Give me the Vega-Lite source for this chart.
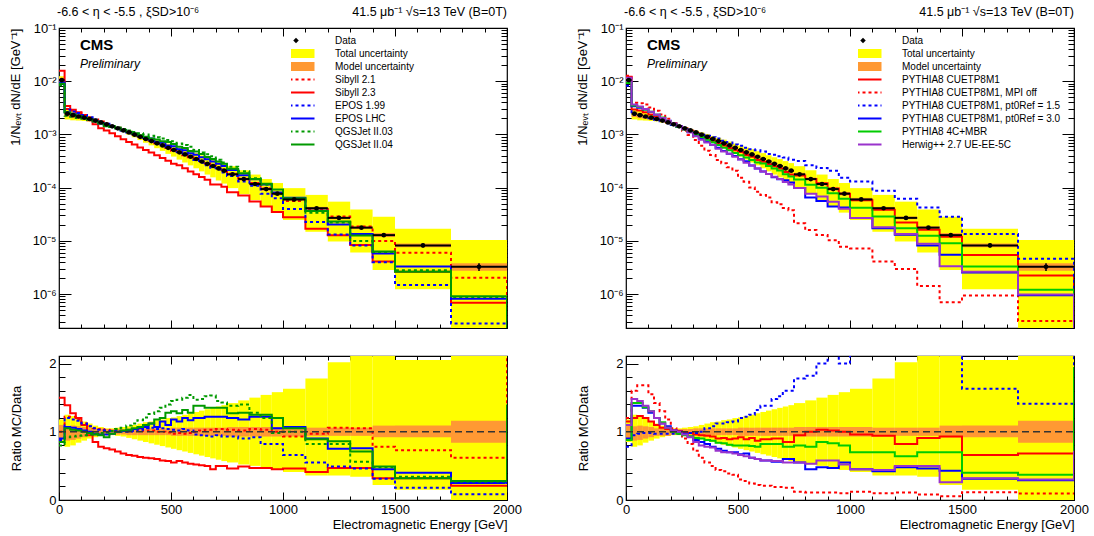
{
"$schema": "https://vega.github.io/schema/vega-lite/v6.json",
"background": "white",
"padding": {"left": 9, "top": 5, "right": 5, "bottom": 5},
"config": {
  "font": "Liberation Sans",
  "view": {"stroke": "black", "strokeWidth": 1.2},
  "axis": {"domain": false, "grid": false, "tickColor": "black", "tickWidth": 1, "labelColor": "black", "titleColor": "black", "labelFont": "Liberation Sans", "titleFont": "Liberation Sans", "labelFontSize": 13, "titleFontSize": 13, "titleFontWeight": "normal", "labelFlush": false, "labelOverlap": false},
  "legend": {"labelFont": "Liberation Sans", "labelColor": "black"}
},
"datasets": {
  "bins": [
    {"e0":0,"e1":25,"c":12.5,"d":1.05e-2,"tl":8.93e-3,"th":1.24e-2,"ml":9.45e-3,"mh":1.16e-2,"rtl":0.85,"rth":1.18,"rml":0.90,"rmh":1.10},
    {"e0":25,"e1":50,"c":37.5,"d":2.45e-3,"tl":1.91e-3,"th":3.06e-3,"ml":2.13e-3,"mh":2.65e-3,"rtl":0.78,"rth":1.25,"rml":0.87,"rmh":1.08},
    {"e0":50,"e1":75,"c":62.5,"d":2.30e-3,"tl":1.84e-3,"th":2.83e-3,"ml":2.02e-3,"mh":2.51e-3,"rtl":0.80,"rth":1.23,"rml":0.88,"rmh":1.09},
    {"e0":75,"e1":100,"c":87.5,"d":2.17e-3,"tl":1.82e-3,"th":2.60e-3,"ml":1.95e-3,"mh":2.34e-3,"rtl":0.84,"rth":1.20,"rml":0.90,"rmh":1.08},
    {"e0":100,"e1":125,"c":112.5,"d":2.06e-3,"tl":1.79e-3,"th":2.37e-3,"ml":1.90e-3,"mh":2.20e-3,"rtl":0.87,"rth":1.15,"rml":0.92,"rmh":1.07},
    {"e0":125,"e1":150,"c":137.5,"d":1.95e-3,"tl":1.76e-3,"th":2.18e-3,"ml":1.83e-3,"mh":2.05e-3,"rtl":0.90,"rth":1.12,"rml":0.94,"rmh":1.05},
    {"e0":150,"e1":175,"c":162.5,"d":1.82e-3,"tl":1.67e-3,"th":1.98e-3,"ml":1.71e-3,"mh":1.91e-3,"rtl":0.92,"rth":1.09,"rml":0.94,"rmh":1.05},
    {"e0":175,"e1":200,"c":187.5,"d":1.68e-3,"tl":1.58e-3,"th":1.80e-3,"ml":1.58e-3,"mh":1.76e-3,"rtl":0.94,"rth":1.07,"rml":0.94,"rmh":1.05},
    {"e0":200,"e1":225,"c":212.5,"d":1.55e-3,"tl":1.47e-3,"th":1.63e-3,"ml":1.49e-3,"mh":1.61e-3,"rtl":0.95,"rth":1.05,"rml":0.96,"rmh":1.04},
    {"e0":225,"e1":250,"c":237.5,"d":1.42e-3,"tl":1.35e-3,"th":1.49e-3,"ml":1.36e-3,"mh":1.48e-3,"rtl":0.95,"rth":1.05,"rml":0.96,"rmh":1.04},
    {"e0":250,"e1":275,"c":262.5,"d":1.30e-3,"tl":1.22e-3,"th":1.38e-3,"ml":1.25e-3,"mh":1.35e-3,"rtl":0.94,"rth":1.06,"rml":0.96,"rmh":1.04},
    {"e0":275,"e1":300,"c":287.5,"d":1.19e-3,"tl":1.11e-3,"th":1.27e-3,"ml":1.14e-3,"mh":1.24e-3,"rtl":0.93,"rth":1.07,"rml":0.96,"rmh":1.04},
    {"e0":300,"e1":325,"c":312.5,"d":1.09e-3,"tl":9.92e-4,"th":1.18e-3,"ml":1.04e-3,"mh":1.14e-3,"rtl":0.91,"rth":1.08,"rml":0.95,"rmh":1.05},
    {"e0":325,"e1":350,"c":337.5,"d":9.9e-4,"tl":8.81e-4,"th":1.09e-3,"ml":9.41e-4,"mh":1.04e-3,"rtl":0.89,"rth":1.10,"rml":0.95,"rmh":1.05},
    {"e0":350,"e1":375,"c":362.5,"d":9.0e-4,"tl":7.83e-4,"th":1.01e-3,"ml":8.55e-4,"mh":9.45e-4,"rtl":0.87,"rth":1.12,"rml":0.95,"rmh":1.05},
    {"e0":375,"e1":400,"c":387.5,"d":8.2e-4,"tl":6.97e-4,"th":9.35e-4,"ml":7.79e-4,"mh":8.61e-4,"rtl":0.85,"rth":1.14,"rml":0.95,"rmh":1.05},
    {"e0":400,"e1":425,"c":412.5,"d":7.5e-4,"tl":6.23e-4,"th":8.63e-4,"ml":7.13e-4,"mh":7.88e-4,"rtl":0.83,"rth":1.15,"rml":0.95,"rmh":1.05},
    {"e0":425,"e1":450,"c":437.5,"d":6.8e-4,"tl":5.51e-4,"th":7.96e-4,"ml":6.46e-4,"mh":7.14e-4,"rtl":0.81,"rth":1.17,"rml":0.95,"rmh":1.05},
    {"e0":450,"e1":475,"c":462.5,"d":6.2e-4,"tl":4.90e-4,"th":7.32e-4,"ml":5.89e-4,"mh":6.51e-4,"rtl":0.79,"rth":1.18,"rml":0.95,"rmh":1.05},
    {"e0":475,"e1":500,"c":487.5,"d":5.6e-4,"tl":4.31e-4,"th":6.72e-4,"ml":5.32e-4,"mh":5.88e-4,"rtl":0.77,"rth":1.20,"rml":0.95,"rmh":1.05},
    {"e0":500,"e1":525,"c":512.5,"d":5.1e-4,"tl":3.83e-4,"th":6.17e-4,"ml":4.79e-4,"mh":5.41e-4,"rtl":0.75,"rth":1.21,"rml":0.94,"rmh":1.06},
    {"e0":525,"e1":550,"c":537.5,"d":4.6e-4,"tl":3.36e-4,"th":5.66e-4,"ml":4.32e-4,"mh":4.88e-4,"rtl":0.73,"rth":1.23,"rml":0.94,"rmh":1.06},
    {"e0":550,"e1":575,"c":562.5,"d":4.2e-4,"tl":2.98e-4,"th":5.25e-4,"ml":3.95e-4,"mh":4.45e-4,"rtl":0.71,"rth":1.25,"rml":0.94,"rmh":1.06},
    {"e0":575,"e1":600,"c":587.5,"d":3.8e-4,"tl":2.62e-4,"th":4.83e-4,"ml":3.57e-4,"mh":4.03e-4,"rtl":0.69,"rth":1.27,"rml":0.94,"rmh":1.06},
    {"e0":600,"e1":625,"c":612.5,"d":3.45e-4,"tl":2.31e-4,"th":4.45e-4,"ml":3.24e-4,"mh":3.66e-4,"rtl":0.67,"rth":1.29,"rml":0.94,"rmh":1.06},
    {"e0":625,"e1":650,"c":637.5,"d":3.1e-4,"tl":2.02e-4,"th":4.06e-4,"ml":2.91e-4,"mh":3.29e-4,"rtl":0.65,"rth":1.31,"rml":0.94,"rmh":1.06},
    {"e0":650,"e1":675,"c":662.5,"d":2.8e-4,"tl":1.76e-4,"th":3.72e-4,"ml":2.63e-4,"mh":2.97e-4,"rtl":0.63,"rth":1.33,"rml":0.94,"rmh":1.06},
    {"e0":675,"e1":700,"c":687.5,"d":2.55e-4,"tl":1.56e-4,"th":3.44e-4,"ml":2.40e-4,"mh":2.70e-4,"rtl":0.61,"rth":1.35,"rml":0.94,"rmh":1.06},
    {"e0":700,"e1":725,"c":712.5,"d":2.3e-4,"tl":1.36e-4,"th":3.15e-4,"ml":2.16e-4,"mh":2.44e-4,"rtl":0.59,"rth":1.37,"rml":0.94,"rmh":1.06},
    {"e0":725,"e1":750,"c":737.5,"d":2.08e-4,"tl":1.19e-4,"th":2.89e-4,"ml":1.96e-4,"mh":2.20e-4,"rtl":0.57,"rth":1.39,"rml":0.94,"rmh":1.06},
    {"e0":750,"e1":800,"c":775,"d":1.78e-4,"tl":9.79e-5,"th":2.53e-4,"ml":1.66e-4,"mh":1.90e-4,"rtl":0.55,"rth":1.42,"rml":0.93,"rmh":1.07},
    {"e0":800,"e1":850,"c":825,"d":1.45e-4,"tl":7.54e-5,"th":2.12e-4,"ml":1.35e-4,"mh":1.55e-4,"rtl":0.52,"rth":1.46,"rml":0.93,"rmh":1.07},
    {"e0":850,"e1":900,"c":875,"d":1.17e-4,"tl":5.85e-5,"th":1.76e-4,"ml":1.09e-4,"mh":1.25e-4,"rtl":0.50,"rth":1.50,"rml":0.93,"rmh":1.07},
    {"e0":900,"e1":950,"c":925,"d":9.4e-5,"tl":4.42e-5,"th":1.45e-4,"ml":8.74e-5,"mh":1.01e-4,"rtl":0.47,"rth":1.54,"rml":0.93,"rmh":1.07},
    {"e0":950,"e1":1000,"c":975,"d":7.7e-5,"tl":3.39e-5,"th":1.22e-4,"ml":7.16e-5,"mh":8.24e-5,"rtl":0.44,"rth":1.58,"rml":0.93,"rmh":1.07},
    {"e0":1000,"e1":1100,"c":1050,"d":6.0e-5,"tl":2.46e-5,"th":9.78e-5,"ml":5.58e-5,"mh":6.42e-5,"rtl":0.41,"rth":1.63,"rml":0.93,"rmh":1.07,"el":5.82e-5,"eh":6.18e-5},
    {"e0":1100,"e1":1200,"c":1150,"d":4.1e-5,"tl":1.48e-5,"th":7.3e-5,"ml":3.85e-5,"mh":4.35e-5,"rtl":0.36,"rth":1.78,"rml":0.94,"rmh":1.06,"el":3.94e-5,"eh":4.26e-5},
    {"e0":1200,"e1":1300,"c":1250,"d":2.7e-5,"tl":9.72e-6,"th":5.45e-5,"ml":2.54e-5,"mh":2.86e-5,"rtl":0.36,"rth":2.02,"rml":0.94,"rmh":1.06,"el":2.57e-5,"eh":2.84e-5},
    {"e0":1300,"e1":1400,"c":1350,"d":1.77e-5,"tl":6.02e-6,"th":3.89e-5,"ml":1.66e-5,"mh":1.88e-5,"rtl":0.34,"rth":2.2,"rml":0.94,"rmh":1.06,"el":1.66e-5,"eh":1.88e-5},
    {"e0":1400,"e1":1500,"c":1450,"d":1.28e-5,"tl":2.82e-6,"th":2.82e-5,"ml":1.18e-5,"mh":1.40e-5,"rtl":0.22,"rth":2.2,"rml":0.92,"rmh":1.09,"el":1.19e-5,"eh":1.37e-5},
    {"e0":1500,"e1":1750,"c":1625,"d":8.2e-6,"tl":1.23e-6,"th":1.68e-5,"ml":7.54e-6,"mh":8.94e-6,"rtl":0.15,"rth":2.05,"rml":0.92,"rmh":1.09,"el":7.46e-6,"eh":8.94e-6},
    {"e0":1750,"e1":2000,"c":1875,"d":3.26e-6,"tl":1e-8,"th":1.04e-5,"ml":2.74e-6,"mh":3.78e-6,"rtl":0,"rth":3.2,"rml":0.84,"rmh":1.16,"el":2.71e-6,"eh":3.81e-6}
  ],
  "Ltop": [
    {"e":0,"s21":1.05e-2,"s23":1.58e-2,"e199":9.24e-3,"elhc":9.45e-3,"q03":8.4e-3,"q04":8.93e-3},
    {"e":25,"s21":2.99e-3,"s23":3.41e-3,"e199":2.94e-3,"elhc":2.62e-3,"q03":2.25e-3,"q04":2.57e-3},
    {"e":50,"s21":2.81e-3,"s23":2.92e-3,"e199":2.71e-3,"elhc":2.44e-3,"q03":2.14e-3,"q04":2.37e-3},
    {"e":75,"s21":2.56e-3,"s23":2.60e-3,"e199":2.52e-3,"elhc":2.26e-3,"q03":2.04e-3,"q04":2.21e-3},
    {"e":100,"s21":2.31e-3,"s23":2.27e-3,"e199":2.31e-3,"elhc":2.10e-3,"q03":1.96e-3,"q04":2.06e-3},
    {"e":125,"s21":2.11e-3,"s23":1.85e-3,"e199":2.11e-3,"elhc":1.95e-3,"q03":1.87e-3,"q04":1.91e-3},
    {"e":150,"s21":1.91e-3,"s23":1.55e-3,"e199":1.91e-3,"elhc":1.77e-3,"q03":1.77e-3,"q04":1.75e-3},
    {"e":175,"s21":1.75e-3,"s23":1.31e-3,"e199":1.73e-3,"elhc":1.61e-3,"q03":1.65e-3,"q04":1.60e-3},
    {"e":200,"s21":1.60e-3,"s23":1.18e-3,"e199":1.58e-3,"elhc":1.49e-3,"q03":1.53e-3,"q04":1.43e-3},
    {"e":225,"s21":1.45e-3,"s23":1.05e-3,"e199":1.43e-3,"elhc":1.38e-3,"q03":1.43e-3,"q04":1.38e-3},
    {"e":250,"s21":1.33e-3,"s23":9.23e-4,"e199":1.31e-3,"elhc":1.30e-3,"q03":1.35e-3,"q04":1.30e-3},
    {"e":275,"s21":1.20e-3,"s23":8.09e-4,"e199":1.19e-3,"elhc":1.20e-3,"q03":1.26e-3,"q04":1.21e-3},
    {"e":300,"s21":1.10e-3,"s23":7.19e-4,"e199":1.09e-3,"elhc":1.11e-3,"q03":1.19e-3,"q04":1.12e-3},
    {"e":325,"s21":1.01e-3,"s23":6.44e-4,"e199":1.00e-3,"elhc":1.03e-3,"q03":1.11e-3,"q04":1.04e-3},
    {"e":350,"s21":9.27e-4,"s23":5.67e-4,"e199":9.27e-4,"elhc":9.45e-4,"q03":1.05e-3,"q04":9.63e-4},
    {"e":375,"s21":8.28e-4,"s23":5.08e-4,"e199":8.61e-4,"elhc":8.77e-4,"q03":9.92e-4,"q04":9.02e-4},
    {"e":400,"s21":7.65e-4,"s23":4.58e-4,"e199":7.95e-4,"elhc":8.4e-4,"q03":9.45e-4,"q04":8.4e-4},
    {"e":425,"s21":6.8e-4,"s23":4.08e-4,"e199":7.07e-4,"elhc":7.28e-4,"q03":8.84e-4,"q04":8.02e-4},
    {"e":450,"s21":6.2e-4,"s23":3.6e-4,"e199":6.51e-4,"elhc":7.13e-4,"q03":8.37e-4,"q04":7.44e-4},
    {"e":475,"s21":5.54e-4,"s23":3.19e-4,"e199":5.82e-4,"elhc":6.16e-4,"q03":7.84e-4,"q04":7.17e-4},
    {"e":500,"s21":4.95e-4,"s23":2.81e-4,"e199":5.25e-4,"elhc":6.02e-4,"q03":7.4e-4,"q04":6.63e-4},
    {"e":525,"s21":4.51e-4,"s23":2.62e-4,"e199":4.69e-4,"elhc":5.29e-4,"q03":6.76e-4,"q04":5.84e-4},
    {"e":550,"s21":4.07e-4,"s23":2.31e-4,"e199":4.37e-4,"elhc":5.04e-4,"q03":6.3e-4,"q04":5.54e-4},
    {"e":575,"s21":3.72e-4,"s23":2.01e-4,"e199":3.88e-4,"elhc":4.45e-4,"q03":5.85e-4,"q04":4.86e-4},
    {"e":600,"s21":3.45e-4,"s23":1.79e-4,"e199":3.31e-4,"elhc":4.14e-4,"q03":5.07e-4,"q04":4.76e-4},
    {"e":625,"s21":3.16e-4,"s23":1.58e-4,"e199":2.95e-4,"elhc":3.72e-4,"q03":4.59e-4,"q04":4.28e-4},
    {"e":650,"s21":2.88e-4,"s23":1.4e-4,"e199":2.63e-4,"elhc":3.42e-4,"q03":4.26e-4,"q04":3.78e-4},
    {"e":675,"s21":2.63e-4,"s23":1.15e-4,"e199":2.37e-4,"elhc":3.11e-4,"q03":3.9e-4,"q04":3.44e-4},
    {"e":700,"s21":2.39e-4,"s23":1.15e-4,"e199":2.19e-4,"elhc":2.81e-4,"q03":3.34e-4,"q04":3.11e-4},
    {"e":725,"s21":2.16e-4,"s23":1.04e-4,"e199":1.93e-4,"elhc":2.54e-4,"q03":2.97e-4,"q04":2.81e-4},
    {"e":750,"s21":1.83e-4,"s23":8.19e-5,"e199":1.66e-4,"elhc":2.14e-4,"q03":2.46e-4,"q04":2.26e-4},
    {"e":800,"s21":1.48e-4,"s23":7.11e-5,"e199":1.31e-4,"elhc":1.71e-4,"q03":2.03e-4,"q04":1.86e-4},
    {"e":850,"s21":1.22e-4,"s23":5.5e-5,"e199":1.08e-4,"elhc":1.43e-4,"q03":1.5e-4,"q04":1.46e-4},
    {"e":900,"s21":9.68e-5,"s23":4.42e-5,"e199":7.71e-5,"elhc":1.15e-4,"q03":1.13e-4,"q04":1.18e-4},
    {"e":950,"s21":7.7e-5,"s23":3.47e-5,"e199":6.31e-5,"elhc":8.09e-5,"q03":7.55e-5,"q04":9.24e-5},
    {"e":1000,"s21":5.58e-5,"s23":2.76e-5,"e199":3.96e-5,"elhc":6.42e-5,"q03":6.0e-5,"q04":6.3e-5},
    {"e":1100,"s21":3.98e-5,"s23":1.68e-5,"e199":2.26e-5,"elhc":3.69e-5,"q03":3.36e-5,"q04":3.65e-5},
    {"e":1200,"s21":2.86e-5,"s23":1.27e-5,"e199":1.32e-5,"elhc":2.03e-5,"q03":2.21e-5,"q04":2.32e-5},
    {"e":1300,"s21":1.86e-5,"s23":8.32e-6,"e199":8.14e-6,"elhc":1.35e-5,"q03":9.91e-6,"q04":1.26e-5},
    {"e":1400,"s21":9.98e-6,"s23":4.1e-6,"e199":3.97e-6,"elhc":5.76e-6,"q03":6.14e-6,"q04":6.27e-6},
    {"e":1500,"s21":5.99e-6,"s23":2.62e-6,"e199":1.48e-6,"elhc":3.28e-6,"q03":2.79e-6,"q04":2.62e-6},
    {"e":1750,"s21":2.02e-6,"s23":6.85e-7,"e199":2.8e-7,"elhc":8.15e-7,"q03":8.8e-7,"q04":9.13e-7},
    {"e":2000,"s21":1e-9,"s23":1e-9,"e199":1e-9,"elhc":1e-9,"q03":1e-9,"q04":1e-9}
  ],
  "Lrat": [
    {"e":0,"s21":1.00,"s23":1.50,"e199":0.88,"elhc":0.90,"q03":0.80,"q04":0.85},
    {"e":25,"s21":1.22,"s23":1.39,"e199":1.20,"elhc":1.07,"q03":0.92,"q04":1.05},
    {"e":50,"s21":1.22,"s23":1.27,"e199":1.18,"elhc":1.06,"q03":0.93,"q04":1.03},
    {"e":75,"s21":1.18,"s23":1.20,"e199":1.16,"elhc":1.04,"q03":0.94,"q04":1.02},
    {"e":100,"s21":1.12,"s23":1.10,"e199":1.12,"elhc":1.02,"q03":0.95,"q04":1.00},
    {"e":125,"s21":1.08,"s23":0.95,"e199":1.08,"elhc":1.00,"q03":0.96,"q04":0.98},
    {"e":150,"s21":1.05,"s23":0.85,"e199":1.05,"elhc":0.97,"q03":0.97,"q04":0.96},
    {"e":175,"s21":1.04,"s23":0.78,"e199":1.03,"elhc":0.96,"q03":0.98,"q04":0.95},
    {"e":200,"s21":1.03,"s23":0.76,"e199":1.02,"elhc":0.96,"q03":0.99,"q04":0.92},
    {"e":225,"s21":1.02,"s23":0.74,"e199":1.01,"elhc":0.97,"q03":1.01,"q04":0.97},
    {"e":250,"s21":1.02,"s23":0.71,"e199":1.01,"elhc":1.00,"q03":1.04,"q04":1.00},
    {"e":275,"s21":1.01,"s23":0.68,"e199":1.00,"elhc":1.01,"q03":1.06,"q04":1.02},
    {"e":300,"s21":1.01,"s23":0.66,"e199":1.00,"elhc":1.02,"q03":1.09,"q04":1.03},
    {"e":325,"s21":1.02,"s23":0.65,"e199":1.01,"elhc":1.04,"q03":1.12,"q04":1.05},
    {"e":350,"s21":1.03,"s23":0.63,"e199":1.03,"elhc":1.05,"q03":1.17,"q04":1.07},
    {"e":375,"s21":1.01,"s23":0.62,"e199":1.05,"elhc":1.07,"q03":1.21,"q04":1.10},
    {"e":400,"s21":1.02,"s23":0.61,"e199":1.06,"elhc":1.12,"q03":1.26,"q04":1.12},
    {"e":425,"s21":1.00,"s23":0.60,"e199":1.04,"elhc":1.07,"q03":1.30,"q04":1.18},
    {"e":450,"s21":1.00,"s23":0.58,"e199":1.05,"elhc":1.15,"q03":1.35,"q04":1.20},
    {"e":475,"s21":0.99,"s23":0.57,"e199":1.04,"elhc":1.10,"q03":1.40,"q04":1.28},
    {"e":500,"s21":0.97,"s23":0.55,"e199":1.03,"elhc":1.18,"q03":1.45,"q04":1.30},
    {"e":525,"s21":0.98,"s23":0.57,"e199":1.02,"elhc":1.15,"q03":1.47,"q04":1.27},
    {"e":550,"s21":0.97,"s23":0.55,"e199":1.04,"elhc":1.20,"q03":1.50,"q04":1.32},
    {"e":575,"s21":0.98,"s23":0.53,"e199":1.02,"elhc":1.17,"q03":1.54,"q04":1.28},
    {"e":600,"s21":1.00,"s23":0.52,"e199":0.96,"elhc":1.20,"q03":1.47,"q04":1.38},
    {"e":625,"s21":1.02,"s23":0.51,"e199":0.95,"elhc":1.20,"q03":1.48,"q04":1.38},
    {"e":650,"s21":1.03,"s23":0.50,"e199":0.94,"elhc":1.22,"q03":1.52,"q04":1.35},
    {"e":675,"s21":1.03,"s23":0.45,"e199":0.93,"elhc":1.22,"q03":1.53,"q04":1.35},
    {"e":700,"s21":1.04,"s23":0.50,"e199":0.95,"elhc":1.22,"q03":1.45,"q04":1.35},
    {"e":725,"s21":1.04,"s23":0.50,"e199":0.93,"elhc":1.22,"q03":1.43,"q04":1.35},
    {"e":750,"s21":1.03,"s23":0.46,"e199":0.93,"elhc":1.20,"q03":1.38,"q04":1.27},
    {"e":800,"s21":1.02,"s23":0.49,"e199":0.90,"elhc":1.18,"q03":1.40,"q04":1.28},
    {"e":850,"s21":1.04,"s23":0.47,"e199":0.92,"elhc":1.22,"q03":1.28,"q04":1.25},
    {"e":900,"s21":1.03,"s23":0.47,"e199":0.82,"elhc":1.22,"q03":1.20,"q04":1.25},
    {"e":950,"s21":1.00,"s23":0.45,"e199":0.82,"elhc":1.05,"q03":0.98,"q04":1.20},
    {"e":1000,"s21":0.93,"s23":0.46,"e199":0.66,"elhc":1.07,"q03":1.00,"q04":1.05},
    {"e":1100,"s21":0.97,"s23":0.41,"e199":0.55,"elhc":0.90,"q03":0.82,"q04":0.89},
    {"e":1200,"s21":1.06,"s23":0.47,"e199":0.49,"elhc":0.75,"q03":0.82,"q04":0.86},
    {"e":1300,"s21":1.05,"s23":0.47,"e199":0.46,"elhc":0.76,"q03":0.56,"q04":0.71},
    {"e":1400,"s21":0.78,"s23":0.32,"e199":0.31,"elhc":0.45,"q03":0.48,"q04":0.49},
    {"e":1500,"s21":0.73,"s23":0.32,"e199":0.18,"elhc":0.40,"q03":0.34,"q04":0.32},
    {"e":1750,"s21":0.62,"s23":0.21,"e199":0.086,"elhc":0.25,"q03":0.27,"q04":0.28},
    {"e":2000,"s21":3,"s23":0.21,"e199":0.086,"elhc":0.25,"q03":0.27,"q04":1.4}
  ],
  "Rtop": [
    {"e":0,"p":1.21e-2,"pm":1.26e-2,"p15":8.19e-3,"p30":9.45e-3,"mbr":9.24e-3,"hw":1.16e-2},
    {"e":25,"p":2.94e-3,"pm":3.92e-3,"p15":2.33e-3,"p30":3.38e-3,"mbr":3.48e-3,"hw":3.63e-3},
    {"e":50,"p":2.83e-3,"pm":3.86e-3,"p15":2.23e-3,"p30":3.17e-3,"mbr":3.27e-3,"hw":3.34e-3},
    {"e":75,"p":2.60e-3,"pm":3.65e-3,"p15":2.13e-3,"p30":2.93e-3,"mbr":2.95e-3,"hw":2.99e-3},
    {"e":100,"p":2.37e-3,"pm":3.19e-3,"p15":2.02e-3,"p30":2.64e-3,"mbr":2.68e-3,"hw":2.68e-3},
    {"e":125,"p":2.15e-3,"pm":2.77e-3,"p15":1.89e-3,"p30":2.34e-3,"mbr":2.34e-3,"hw":2.34e-3},
    {"e":150,"p":1.93e-3,"pm":2.37e-3,"p15":1.77e-3,"p30":2.04e-3,"mbr":2.07e-3,"hw":2.04e-3},
    {"e":175,"p":1.75e-3,"pm":1.98e-3,"p15":1.63e-3,"p30":1.81e-3,"mbr":1.78e-3,"hw":1.78e-3},
    {"e":200,"p":1.58e-3,"pm":1.63e-3,"p15":1.50e-3,"p30":1.58e-3,"mbr":1.55e-3,"hw":1.58e-3},
    {"e":225,"p":1.43e-3,"pm":1.38e-3,"p15":1.38e-3,"p30":1.42e-3,"mbr":1.38e-3,"hw":1.42e-3},
    {"e":250,"p":1.29e-3,"pm":1.17e-3,"p15":1.26e-3,"p30":1.26e-3,"mbr":1.24e-3,"hw":1.25e-3},
    {"e":275,"p":1.17e-3,"pm":9.76e-4,"p15":1.17e-3,"p30":1.11e-3,"mbr":1.11e-3,"hw":1.09e-3},
    {"e":300,"p":1.05e-3,"pm":7.85e-4,"p15":1.07e-3,"p30":9.59e-4,"mbr":9.92e-4,"hw":9.27e-4},
    {"e":325,"p":9.41e-4,"pm":6.14e-4,"p15":9.9e-4,"p30":8.42e-4,"mbr":8.91e-4,"hw":7.92e-4},
    {"e":350,"p":8.46e-4,"pm":4.95e-4,"p15":9.45e-4,"p30":7.38e-4,"mbr":7.92e-4,"hw":7.02e-4},
    {"e":375,"p":7.63e-4,"pm":4.1e-4,"p15":8.86e-4,"p30":6.4e-4,"mbr":7.13e-4,"hw":6.31e-4},
    {"e":400,"p":6.75e-4,"pm":3.3e-4,"p15":8.4e-4,"p30":5.63e-4,"mbr":6.3e-4,"hw":5.4e-4},
    {"e":425,"p":6.19e-4,"pm":2.86e-4,"p15":7.62e-4,"p30":4.9e-4,"mbr":5.64e-4,"hw":4.76e-4},
    {"e":450,"p":5.52e-4,"pm":2.42e-4,"p15":7.07e-4,"p30":4.34e-4,"mbr":5.02e-4,"hw":4.34e-4},
    {"e":475,"p":5.04e-4,"pm":2.07e-4,"p15":6.44e-4,"p30":3.92e-4,"mbr":4.48e-4,"hw":3.81e-4},
    {"e":500,"p":4.69e-4,"pm":1.53e-4,"p15":6.12e-4,"p30":3.42e-4,"mbr":4.08e-4,"hw":3.37e-4},
    {"e":525,"p":4.09e-4,"pm":1.29e-4,"p15":5.61e-4,"p30":3.13e-4,"mbr":3.68e-4,"hw":2.94e-4},
    {"e":550,"p":3.82e-4,"pm":1.01e-4,"p15":5.25e-4,"p30":2.6e-4,"mbr":3.32e-4,"hw":2.6e-4},
    {"e":575,"p":3.31e-4,"pm":8.36e-5,"p15":5.02e-4,"p30":2.28e-4,"mbr":2.96e-4,"hw":2.28e-4},
    {"e":600,"p":3.07e-4,"pm":7.25e-5,"p15":4.76e-4,"p30":2.0e-4,"mbr":2.83e-4,"hw":2.0e-4},
    {"e":625,"p":2.76e-4,"pm":6.51e-5,"p15":4.28e-4,"p30":1.8e-4,"mbr":2.54e-4,"hw":1.8e-4},
    {"e":650,"p":2.52e-4,"pm":5.32e-5,"p15":4.14e-4,"p30":1.57e-4,"mbr":2.3e-4,"hw":1.6e-4},
    {"e":675,"p":2.3e-4,"pm":4.85e-5,"p15":3.88e-4,"p30":1.43e-4,"mbr":2.09e-4,"hw":1.45e-4},
    {"e":700,"p":1.96e-4,"pm":4.14e-5,"p15":3.68e-4,"p30":1.38e-4,"mbr":1.79e-4,"hw":1.27e-4},
    {"e":725,"p":1.77e-4,"pm":3.74e-5,"p15":3.33e-4,"p30":1.25e-4,"mbr":1.62e-4,"hw":1.14e-4},
    {"e":750,"p":1.69e-4,"pm":2.14e-5,"p15":3.17e-4,"p30":9.79e-5,"mbr":1.42e-4,"hw":9.79e-5},
    {"e":800,"p":1.45e-4,"pm":1.6e-5,"p15":2.64e-4,"p30":6.53e-5,"mbr":1.13e-4,"hw":7.69e-5},
    {"e":850,"p":1.21e-4,"pm":1.29e-5,"p15":2.34e-4,"p30":5.62e-5,"mbr":9.95e-5,"hw":6.79e-5},
    {"e":900,"p":9.59e-5,"pm":1.03e-5,"p15":2.07e-4,"p30":4.42e-5,"mbr":7.8e-5,"hw":5.45e-5},
    {"e":950,"p":7.7e-5,"pm":7.7e-6,"p15":1.54e-4,"p30":4.24e-5,"mbr":6.16e-5,"hw":4.0e-5},
    {"e":1000,"p":5.76e-5,"pm":7.2e-6,"p15":1.3e-4,"p30":2.7e-5,"mbr":4.2e-5,"hw":2.7e-5},
    {"e":1100,"p":3.85e-5,"pm":4.1e-6,"p15":8.77e-5,"p30":1.72e-5,"mbr":2.87e-5,"hw":1.8e-5},
    {"e":1200,"p":2.21e-5,"pm":2.97e-6,"p15":6.16e-5,"p30":1.3e-5,"mbr":1.73e-5,"hw":1.35e-5},
    {"e":1300,"p":1.61e-5,"pm":1.42e-6,"p15":4.25e-5,"p30":8.14e-6,"mbr":1.24e-5,"hw":8.85e-6},
    {"e":1400,"p":1.19e-5,"pm":7.04e-7,"p15":2.82e-5,"p30":5.5e-6,"mbr":8.96e-6,"hw":3.33e-6},
    {"e":1500,"p":5.41e-6,"pm":9.43e-7,"p15":1.34e-5,"p30":2.54e-6,"mbr":3.28e-6,"hw":2.62e-6},
    {"e":1750,"p":2.22e-6,"pm":3.1e-7,"p15":4.6e-6,"p30":9.45e-7,"mbr":1.21e-6,"hw":9.78e-7},
    {"e":2000,"p":1e-9,"pm":1e-9,"p15":1e-9,"p30":1e-9,"mbr":1e-9,"hw":1e-9}
  ],
  "Rrat": [
    {"e":0,"p":1.15,"pm":1.20,"p15":0.78,"p30":0.90,"mbr":0.88,"hw":1.10},
    {"e":25,"p":1.20,"pm":1.60,"p15":0.95,"p30":1.38,"mbr":1.42,"hw":1.48},
    {"e":50,"p":1.23,"pm":1.68,"p15":0.97,"p30":1.38,"mbr":1.42,"hw":1.45},
    {"e":75,"p":1.20,"pm":1.68,"p15":0.98,"p30":1.35,"mbr":1.36,"hw":1.38},
    {"e":100,"p":1.15,"pm":1.55,"p15":0.98,"p30":1.28,"mbr":1.30,"hw":1.30},
    {"e":125,"p":1.10,"pm":1.42,"p15":0.97,"p30":1.20,"mbr":1.20,"hw":1.20},
    {"e":150,"p":1.06,"pm":1.30,"p15":0.97,"p30":1.12,"mbr":1.14,"hw":1.12},
    {"e":175,"p":1.04,"pm":1.18,"p15":0.97,"p30":1.08,"mbr":1.06,"hw":1.06},
    {"e":200,"p":1.02,"pm":1.05,"p15":0.97,"p30":1.02,"mbr":1.00,"hw":1.02},
    {"e":225,"p":1.01,"pm":0.97,"p15":0.97,"p30":1.00,"mbr":0.97,"hw":1.00},
    {"e":250,"p":0.99,"pm":0.90,"p15":0.97,"p30":0.97,"mbr":0.95,"hw":0.96},
    {"e":275,"p":0.98,"pm":0.82,"p15":0.98,"p30":0.93,"mbr":0.93,"hw":0.92},
    {"e":300,"p":0.96,"pm":0.72,"p15":0.98,"p30":0.88,"mbr":0.91,"hw":0.85},
    {"e":325,"p":0.95,"pm":0.62,"p15":1.00,"p30":0.85,"mbr":0.90,"hw":0.80},
    {"e":350,"p":0.94,"pm":0.55,"p15":1.05,"p30":0.82,"mbr":0.88,"hw":0.78},
    {"e":375,"p":0.93,"pm":0.50,"p15":1.08,"p30":0.78,"mbr":0.87,"hw":0.77},
    {"e":400,"p":0.90,"pm":0.44,"p15":1.12,"p30":0.75,"mbr":0.84,"hw":0.72},
    {"e":425,"p":0.91,"pm":0.42,"p15":1.12,"p30":0.72,"mbr":0.83,"hw":0.70},
    {"e":450,"p":0.89,"pm":0.39,"p15":1.14,"p30":0.70,"mbr":0.81,"hw":0.70},
    {"e":475,"p":0.90,"pm":0.37,"p15":1.15,"p30":0.70,"mbr":0.80,"hw":0.68},
    {"e":500,"p":0.92,"pm":0.30,"p15":1.20,"p30":0.67,"mbr":0.80,"hw":0.66},
    {"e":525,"p":0.89,"pm":0.28,"p15":1.22,"p30":0.68,"mbr":0.80,"hw":0.64},
    {"e":550,"p":0.91,"pm":0.24,"p15":1.25,"p30":0.62,"mbr":0.79,"hw":0.62},
    {"e":575,"p":0.87,"pm":0.22,"p15":1.32,"p30":0.60,"mbr":0.78,"hw":0.60},
    {"e":600,"p":0.89,"pm":0.21,"p15":1.38,"p30":0.58,"mbr":0.82,"hw":0.58},
    {"e":625,"p":0.89,"pm":0.21,"p15":1.38,"p30":0.58,"mbr":0.82,"hw":0.58},
    {"e":650,"p":0.90,"pm":0.19,"p15":1.48,"p30":0.56,"mbr":0.82,"hw":0.57},
    {"e":675,"p":0.90,"pm":0.19,"p15":1.52,"p30":0.56,"mbr":0.82,"hw":0.57},
    {"e":700,"p":0.85,"pm":0.18,"p15":1.60,"p30":0.60,"mbr":0.78,"hw":0.55},
    {"e":725,"p":0.85,"pm":0.18,"p15":1.60,"p30":0.60,"mbr":0.78,"hw":0.55},
    {"e":750,"p":0.95,"pm":0.12,"p15":1.78,"p30":0.55,"mbr":0.80,"hw":0.55},
    {"e":800,"p":1.00,"pm":0.11,"p15":1.82,"p30":0.45,"mbr":0.78,"hw":0.53},
    {"e":850,"p":1.03,"pm":0.11,"p15":2.00,"p30":0.48,"mbr":0.85,"hw":0.58},
    {"e":900,"p":1.02,"pm":0.11,"p15":2.20,"p30":0.47,"mbr":0.83,"hw":0.58},
    {"e":950,"p":1.00,"pm":0.10,"p15":2.00,"p30":0.55,"mbr":0.80,"hw":0.52},
    {"e":1000,"p":0.96,"pm":0.12,"p15":2.16,"p30":0.45,"mbr":0.70,"hw":0.45},
    {"e":1100,"p":0.94,"pm":0.10,"p15":2.14,"p30":0.42,"mbr":0.70,"hw":0.44},
    {"e":1200,"p":0.82,"pm":0.11,"p15":2.28,"p30":0.48,"mbr":0.64,"hw":0.50},
    {"e":1300,"p":0.91,"pm":0.08,"p15":2.40,"p30":0.46,"mbr":0.70,"hw":0.50},
    {"e":1400,"p":0.93,"pm":0.055,"p15":2.20,"p30":0.43,"mbr":0.70,"hw":0.26},
    {"e":1500,"p":0.66,"pm":0.115,"p15":1.63,"p30":0.31,"mbr":0.40,"hw":0.32},
    {"e":1750,"p":0.68,"pm":0.095,"p15":1.41,"p30":0.29,"mbr":0.37,"hw":0.30},
    {"e":2000,"p":0.68,"pm":0.095,"p15":3,"p30":0.29,"mbr":1.95,"hw":0.72}
  ]
},
"columns": 2,
"spacing": {"row": 28, "column": 119},
"bounds": "flush",
"resolve": {"scale": {"x": "independent", "y": "independent", "color": "independent", "strokeDash": "independent"}},
"concat": [
  {
    "width": 448, "height": 300,
    "layer": [
      {"data": {"name": "bins"}, "mark": {"type": "rect", "color": "#ffff00", "clip": true},
       "encoding": {
         "x": {"field": "e0", "type": "quantitative", "scale": {"domain": [0, 2000], "nice": false, "zero": false}, "axis": {"orient": "bottom", "values": [100,200,300,400,600,700,800,900,1100,1200,1300,1400,1600,1700,1800,1900], "tickSize": 4, "offset": -4, "labels": false, "title": null}},
         "x2": {"field": "e1"},
         "y": {"field": "tl", "type": "quantitative", "scale": {"type": "log", "domain": [2.3e-7, 0.1], "nice": false}, "axis": {"orient": "left", "values": [3e-7,4e-7,5e-7,6e-7,7e-7,8e-7,9e-7,2e-6,3e-6,4e-6,5e-6,6e-6,7e-6,8e-6,9e-6,2e-5,3e-5,4e-5,5e-5,6e-5,7e-5,8e-5,9e-5,2e-4,3e-4,4e-4,5e-4,6e-4,7e-4,8e-4,9e-4,0.002,0.003,0.004,0.005,0.006,0.007,0.008,0.009,0.02,0.03,0.04,0.05,0.06,0.07,0.08,0.09], "tickSize": 6, "offset": -6, "labels": false, "title": null}},
         "y2": {"field": "th"}
       }},
      {"data": {"name": "bins"}, "mark": {"type": "rect", "color": "#ff9933", "clip": true},
       "encoding": {
         "x": {"field": "e0", "type": "quantitative", "axis": {"orient": "top", "values": [100,200,300,400,600,700,800,900,1100,1200,1300,1400,1600,1700,1800,1900], "tickSize": 4, "offset": -4, "labels": false, "title": null}},
         "x2": {"field": "e1"},
         "y": {"field": "ml", "type": "quantitative", "axis": {"orient": "right", "values": [3e-7,4e-7,5e-7,6e-7,7e-7,8e-7,9e-7,2e-6,3e-6,4e-6,5e-6,6e-6,7e-6,8e-6,9e-6,2e-5,3e-5,4e-5,5e-5,6e-5,7e-5,8e-5,9e-5,2e-4,3e-4,4e-4,5e-4,6e-4,7e-4,8e-4,9e-4,0.002,0.003,0.004,0.005,0.006,0.007,0.008,0.009,0.02,0.03,0.04,0.05,0.06,0.07,0.08,0.09], "tickSize": 6, "offset": -6, "labels": false, "title": null}},
         "y2": {"field": "mh"}
       }},
      {"data": {"name": "Ltop"},
       "transform": [{"fold": ["s21", "s23", "e199", "elhc", "q03", "q04"], "as": ["series", "v"]}],
       "mark": {"type": "line", "interpolate": "step-after", "strokeWidth": 2, "clip": true},
       "encoding": {
         "x": {"field": "e", "type": "quantitative", "axis": {"orient": "bottom", "values": [0,500,1000,1500,2000], "tickSize": 8, "offset": -8, "labels": false, "title": null}},
         "y": {"field": "v", "type": "quantitative", "axis": {"orient": "left", "values": [1e-6,1e-5,1e-4,0.001,0.01,0.1], "tickSize": 12, "offset": -12, "labelPadding": 3, "labelExpr": "'10' + ['⁰','⁻¹','⁻²','⁻³','⁻⁴','⁻⁵','⁻⁶','⁻⁷'][round(-log(datum.value)/LN10)]", "title": "1/Nₑᵥₜ dN/dE [GeV⁻¹]", "titleAnchor": "end", "titlePadding": 9}},
         "color": {"field": "series", "type": "nominal",
           "scale": {"domain": ["data","tot","mod","s21","s23","e199","elhc","q03","q04"], "range": ["#000000","#ffff00","#ff9933","#ff0000","#ff0000","#0000ff","#0000ff","#009900","#009900"]},
           "legend": {"orient": "none", "legendX": 232, "legendY": 7, "title": null, "symbolType": "stroke", "symbolSize": 1369, "labelOffset": 34, "rowPadding": 2, "clipHeight": 11, "padding": 0, "labelFontSize": 10,
             "labelExpr": "{'data':'Data','tot':'Total uncertainty','mod':'Model uncertainty','s21':'Sibyll 2.1','s23':'Sibyll 2.3','e199':'EPOS 1.99','elhc':'EPOS LHC','q03':'QGSJet II.03','q04':'QGSJet II.04'}[datum.value]",
             "encode": {"symbols": {"update": {
               "shape": {"signal": "datum.value === 'data' ? 'diamond' : 'stroke'"},
               "size": {"signal": "datum.value === 'data' ? 30 : 1369"},
               "fill": {"signal": "datum.value === 'data' ? 'black' : 'transparent'"},
               "strokeWidth": {"signal": "datum.value === 'tot' || datum.value === 'mod' ? 9 : (datum.value === 'data' ? 0 : 2)"}
             }}}}},
         "strokeDash": {"field": "series", "type": "nominal",
           "scale": {"domain": ["data","tot","mod","s21","s23","e199","elhc","q03","q04"], "range": [[1,0],[1,0],[1,0],[3,3],[1,0],[3,3],[1,0],[3,3],[1,0]]}}
       }},
      {"data": {"name": "bins"}, "mark": {"type": "rule", "color": "black", "strokeWidth": 2, "clip": true},
       "encoding": {
         "x": {"field": "e0", "type": "quantitative", "axis": {"orient": "top", "values": [0,500,1000,1500,2000], "tickSize": 8, "offset": -8, "labels": false, "title": null}},
         "x2": {"field": "e1"},
         "y": {"field": "d", "type": "quantitative", "axis": {"orient": "right", "values": [1e-6,1e-5,1e-4,0.001,0.01,0.1], "tickSize": 12, "offset": -12, "labels": false, "title": null}}
       }},
      {"data": {"name": "bins"}, "transform": [{"filter": "isValid(datum.el)"}], "mark": {"type": "rule", "color": "black", "strokeWidth": 1.5},
       "encoding": {
         "x": {"field": "c", "type": "quantitative", "axis": null},
         "y": {"field": "el", "type": "quantitative", "axis": null},
         "y2": {"field": "eh"}
       }},
      {"data": {"name": "bins"}, "mark": {"type": "point", "filled": true, "color": "black", "size": 22, "opacity": 1},
       "encoding": {
         "x": {"field": "c", "type": "quantitative", "axis": null},
         "y": {"field": "d", "type": "quantitative", "axis": null}
       }},
      {"data": {"values": [{}]}, "mark": {"type": "text", "text": "CMS", "fontWeight": "bold", "fontSize": 15, "align": "left", "baseline": "middle", "dx": 21, "dy": 17, "color": "black"},
       "encoding": {"x": {"datum": 0, "type": "quantitative", "axis": null}, "y": {"datum": 0.1, "type": "quantitative", "axis": null}}},
      {"data": {"values": [{}]}, "mark": {"type": "text", "text": "Preliminary", "fontStyle": "italic", "fontSize": 12, "align": "left", "baseline": "middle", "dx": 21, "dy": 36, "color": "black"},
       "encoding": {"x": {"datum": 0, "type": "quantitative", "axis": null}, "y": {"datum": 0.1, "type": "quantitative", "axis": null}}},
      {"data": {"values": [{}]}, "mark": {"type": "text", "text": "-6.6 < η < -5.5 , ξSD>10⁻⁶", "fontSize": 12.5, "align": "left", "baseline": "middle", "dx": -2, "dy": -16, "color": "black"},
       "encoding": {"x": {"datum": 0, "type": "quantitative", "axis": null}, "y": {"datum": 0.1, "type": "quantitative", "axis": null}}},
      {"data": {"values": [{}]}, "mark": {"type": "text", "text": "41.5 μb⁻¹ √s=13 TeV (B=0T)", "fontSize": 12.5, "align": "right", "baseline": "middle", "dx": 0, "dy": -16, "color": "black"},
       "encoding": {"x": {"datum": 2000, "type": "quantitative", "axis": null}, "y": {"datum": 0.1, "type": "quantitative", "axis": null}}}
    ],
    "resolve": {"axis": {"x": "independent", "y": "independent"}}
  },
  {
    "width": 448, "height": 300,
    "layer": [
      {"data": {"name": "bins"}, "mark": {"type": "rect", "color": "#ffff00", "clip": true},
       "encoding": {
         "x": {"field": "e0", "type": "quantitative", "scale": {"domain": [0, 2000], "nice": false, "zero": false}, "axis": {"orient": "bottom", "values": [100,200,300,400,600,700,800,900,1100,1200,1300,1400,1600,1700,1800,1900], "tickSize": 4, "offset": -4, "labels": false, "title": null}},
         "x2": {"field": "e1"},
         "y": {"field": "tl", "type": "quantitative", "scale": {"type": "log", "domain": [2.3e-7, 0.1], "nice": false}, "axis": {"orient": "left", "values": [3e-7,4e-7,5e-7,6e-7,7e-7,8e-7,9e-7,2e-6,3e-6,4e-6,5e-6,6e-6,7e-6,8e-6,9e-6,2e-5,3e-5,4e-5,5e-5,6e-5,7e-5,8e-5,9e-5,2e-4,3e-4,4e-4,5e-4,6e-4,7e-4,8e-4,9e-4,0.002,0.003,0.004,0.005,0.006,0.007,0.008,0.009,0.02,0.03,0.04,0.05,0.06,0.07,0.08,0.09], "tickSize": 6, "offset": -6, "labels": false, "title": null}},
         "y2": {"field": "th"}
       }},
      {"data": {"name": "bins"}, "mark": {"type": "rect", "color": "#ff9933", "clip": true},
       "encoding": {
         "x": {"field": "e0", "type": "quantitative", "axis": {"orient": "top", "values": [100,200,300,400,600,700,800,900,1100,1200,1300,1400,1600,1700,1800,1900], "tickSize": 4, "offset": -4, "labels": false, "title": null}},
         "x2": {"field": "e1"},
         "y": {"field": "ml", "type": "quantitative", "axis": {"orient": "right", "values": [3e-7,4e-7,5e-7,6e-7,7e-7,8e-7,9e-7,2e-6,3e-6,4e-6,5e-6,6e-6,7e-6,8e-6,9e-6,2e-5,3e-5,4e-5,5e-5,6e-5,7e-5,8e-5,9e-5,2e-4,3e-4,4e-4,5e-4,6e-4,7e-4,8e-4,9e-4,0.002,0.003,0.004,0.005,0.006,0.007,0.008,0.009,0.02,0.03,0.04,0.05,0.06,0.07,0.08,0.09], "tickSize": 6, "offset": -6, "labels": false, "title": null}},
         "y2": {"field": "mh"}
       }},
      {"data": {"name": "Rtop"},
       "transform": [{"fold": ["p", "pm", "p15", "p30", "mbr", "hw"], "as": ["series", "v"]}],
       "mark": {"type": "line", "interpolate": "step-after", "strokeWidth": 2, "clip": true},
       "encoding": {
         "x": {"field": "e", "type": "quantitative", "axis": {"orient": "bottom", "values": [0,500,1000,1500,2000], "tickSize": 8, "offset": -8, "labels": false, "title": null}},
         "y": {"field": "v", "type": "quantitative", "axis": {"orient": "left", "values": [1e-6,1e-5,1e-4,0.001,0.01,0.1], "tickSize": 12, "offset": -12, "labelPadding": 3, "labelExpr": "'10' + ['⁰','⁻¹','⁻²','⁻³','⁻⁴','⁻⁵','⁻⁶','⁻⁷'][round(-log(datum.value)/LN10)]", "title": "1/Nₑᵥₜ dN/dE [GeV⁻¹]", "titleAnchor": "end", "titlePadding": 9}},
         "color": {"field": "series", "type": "nominal",
           "scale": {"domain": ["data","tot","mod","p","pm","p15","p30","mbr","hw"], "range": ["#000000","#ffff00","#ff9933","#ff0000","#ff0000","#0000ff","#0000ff","#00cc00","#9933cc"]},
           "legend": {"orient": "none", "legendX": 232, "legendY": 7, "title": null, "symbolType": "stroke", "symbolSize": 1369, "labelOffset": 34, "rowPadding": 2, "clipHeight": 11, "padding": 0, "labelFontSize": 10,
             "labelExpr": "{'data':'Data','tot':'Total uncertainty','mod':'Model uncertainty','p':'PYTHIA8 CUETP8M1','pm':'PYTHIA8 CUETP8M1, MPI off','p15':'PYTHIA8 CUETP8M1, pt0Ref = 1.5','p30':'PYTHIA8 CUETP8M1, pt0Ref = 3.0','mbr':'PYTHIA8 4C+MBR','hw':'Herwig++ 2.7 UE-EE-5C'}[datum.value]",
             "encode": {"symbols": {"update": {
               "shape": {"signal": "datum.value === 'data' ? 'diamond' : 'stroke'"},
               "size": {"signal": "datum.value === 'data' ? 30 : 1369"},
               "fill": {"signal": "datum.value === 'data' ? 'black' : 'transparent'"},
               "strokeWidth": {"signal": "datum.value === 'tot' || datum.value === 'mod' ? 9 : (datum.value === 'data' ? 0 : 2)"}
             }}}}},
         "strokeDash": {"field": "series", "type": "nominal",
           "scale": {"domain": ["data","tot","mod","p","pm","p15","p30","mbr","hw"], "range": [[1,0],[1,0],[1,0],[1,0],[3,3],[3,3],[1,0],[1,0],[1,0]]}}
       }},
      {"data": {"name": "bins"}, "mark": {"type": "rule", "color": "black", "strokeWidth": 2, "clip": true},
       "encoding": {
         "x": {"field": "e0", "type": "quantitative", "axis": {"orient": "top", "values": [0,500,1000,1500,2000], "tickSize": 8, "offset": -8, "labels": false, "title": null}},
         "x2": {"field": "e1"},
         "y": {"field": "d", "type": "quantitative", "axis": {"orient": "right", "values": [1e-6,1e-5,1e-4,0.001,0.01,0.1], "tickSize": 12, "offset": -12, "labels": false, "title": null}}
       }},
      {"data": {"name": "bins"}, "transform": [{"filter": "isValid(datum.el)"}], "mark": {"type": "rule", "color": "black", "strokeWidth": 1.5},
       "encoding": {
         "x": {"field": "c", "type": "quantitative", "axis": null},
         "y": {"field": "el", "type": "quantitative", "axis": null},
         "y2": {"field": "eh"}
       }},
      {"data": {"name": "bins"}, "mark": {"type": "point", "filled": true, "color": "black", "size": 22, "opacity": 1},
       "encoding": {
         "x": {"field": "c", "type": "quantitative", "axis": null},
         "y": {"field": "d", "type": "quantitative", "axis": null}
       }},
      {"data": {"values": [{}]}, "mark": {"type": "text", "text": "CMS", "fontWeight": "bold", "fontSize": 15, "align": "left", "baseline": "middle", "dx": 21, "dy": 17, "color": "black"},
       "encoding": {"x": {"datum": 0, "type": "quantitative", "axis": null}, "y": {"datum": 0.1, "type": "quantitative", "axis": null}}},
      {"data": {"values": [{}]}, "mark": {"type": "text", "text": "Preliminary", "fontStyle": "italic", "fontSize": 12, "align": "left", "baseline": "middle", "dx": 21, "dy": 36, "color": "black"},
       "encoding": {"x": {"datum": 0, "type": "quantitative", "axis": null}, "y": {"datum": 0.1, "type": "quantitative", "axis": null}}},
      {"data": {"values": [{}]}, "mark": {"type": "text", "text": "-6.6 < η < -5.5 , ξSD>10⁻⁶", "fontSize": 12.5, "align": "left", "baseline": "middle", "dx": -2, "dy": -16, "color": "black"},
       "encoding": {"x": {"datum": 0, "type": "quantitative", "axis": null}, "y": {"datum": 0.1, "type": "quantitative", "axis": null}}},
      {"data": {"values": [{}]}, "mark": {"type": "text", "text": "41.5 μb⁻¹ √s=13 TeV (B=0T)", "fontSize": 12.5, "align": "right", "baseline": "middle", "dx": 0, "dy": -16, "color": "black"},
       "encoding": {"x": {"datum": 2000, "type": "quantitative", "axis": null}, "y": {"datum": 0.1, "type": "quantitative", "axis": null}}}
    ],
    "resolve": {"axis": {"x": "independent", "y": "independent"}}
  },
  {
    "width": 448, "height": 144,
    "layer": [
      {"data": {"name": "bins"}, "mark": {"type": "rect", "color": "#ffff00", "clip": true},
       "encoding": {
         "x": {"field": "e0", "type": "quantitative", "scale": {"domain": [0, 2000], "nice": false, "zero": false}, "axis": {"orient": "bottom", "values": [100,200,300,400,600,700,800,900,1100,1200,1300,1400,1600,1700,1800,1900], "tickSize": 4, "offset": -4, "labels": false, "title": null}},
         "x2": {"field": "e1"},
         "y": {"field": "rtl", "type": "quantitative", "scale": {"domain": [0, 2.11], "nice": false, "zero": false}, "axis": {"orient": "left", "values": [0.2,0.4,0.6,0.8,1.2,1.4,1.6,1.8], "tickSize": 6, "offset": -6, "labels": false, "title": null}},
         "y2": {"field": "rth"}
       }},
      {"data": {"name": "bins"}, "mark": {"type": "rect", "color": "#ff9933", "clip": true},
       "encoding": {
         "x": {"field": "e0", "type": "quantitative", "axis": {"orient": "top", "values": [100,200,300,400,600,700,800,900,1100,1200,1300,1400,1600,1700,1800,1900], "tickSize": 4, "offset": -4, "labels": false, "title": null}},
         "x2": {"field": "e1"},
         "y": {"field": "rml", "type": "quantitative", "axis": {"orient": "right", "values": [0.2,0.4,0.6,0.8,1.2,1.4,1.6,1.8], "tickSize": 6, "offset": -6, "labels": false, "title": null}},
         "y2": {"field": "rmh"}
       }},
      {"data": {"name": "Lrat"},
       "transform": [{"fold": ["s21", "s23", "e199", "elhc", "q03", "q04"], "as": ["series", "v"]}],
       "mark": {"type": "line", "interpolate": "step-after", "strokeWidth": 2, "clip": true},
       "encoding": {
         "x": {"field": "e", "type": "quantitative", "axis": {"orient": "bottom", "values": [0,500,1000,1500,2000], "format": "d", "tickSize": 8, "offset": -8, "labelPadding": 3, "labelOverlap": false, "title": "Electromagnetic Energy [GeV]", "titleAnchor": "end", "titlePadding": 2}},
         "y": {"field": "v", "type": "quantitative", "axis": {"orient": "left", "values": [0,1,2], "labelExpr": "datum.value === 0 ? '0' : (datum.value === 1 ? '1' : '2')", "labelOverlap": false, "tickSize": 12, "offset": -12, "labelPadding": 3, "title": "Ratio MC/Data", "titlePadding": 25}},
         "color": {"field": "series", "type": "nominal", "legend": null,
           "scale": {"domain": ["data","tot","mod","s21","s23","e199","elhc","q03","q04"], "range": ["#000000","#ffff00","#ff9933","#ff0000","#ff0000","#0000ff","#0000ff","#009900","#009900"]}},
         "strokeDash": {"field": "series", "type": "nominal", "legend": null,
           "scale": {"domain": ["data","tot","mod","s21","s23","e199","elhc","q03","q04"], "range": [[1,0],[1,0],[1,0],[3,3],[1,0],[3,3],[1,0],[3,3],[1,0]]}}
       }},
      {"data": {"values": [{}]}, "mark": {"type": "rule", "strokeDash": [7,4], "color": "#333333", "strokeWidth": 1.5},
       "encoding": {
         "x": {"datum": 0, "type": "quantitative", "axis": {"orient": "top", "values": [0,500,1000,1500,2000], "tickSize": 8, "offset": -8, "labels": false, "title": null}},
         "x2": {"datum": 2000},
         "y": {"datum": 1, "type": "quantitative", "axis": {"orient": "right", "values": [0,1,2], "tickSize": 12, "offset": -12, "labels": false, "title": null}}
       }}
    ],
    "resolve": {"axis": {"x": "independent", "y": "independent"}}
  },
  {
    "width": 448, "height": 144,
    "layer": [
      {"data": {"name": "bins"}, "mark": {"type": "rect", "color": "#ffff00", "clip": true},
       "encoding": {
         "x": {"field": "e0", "type": "quantitative", "scale": {"domain": [0, 2000], "nice": false, "zero": false}, "axis": {"orient": "bottom", "values": [100,200,300,400,600,700,800,900,1100,1200,1300,1400,1600,1700,1800,1900], "tickSize": 4, "offset": -4, "labels": false, "title": null}},
         "x2": {"field": "e1"},
         "y": {"field": "rtl", "type": "quantitative", "scale": {"domain": [0, 2.11], "nice": false, "zero": false}, "axis": {"orient": "left", "values": [0.2,0.4,0.6,0.8,1.2,1.4,1.6,1.8], "tickSize": 6, "offset": -6, "labels": false, "title": null}},
         "y2": {"field": "rth"}
       }},
      {"data": {"name": "bins"}, "mark": {"type": "rect", "color": "#ff9933", "clip": true},
       "encoding": {
         "x": {"field": "e0", "type": "quantitative", "axis": {"orient": "top", "values": [100,200,300,400,600,700,800,900,1100,1200,1300,1400,1600,1700,1800,1900], "tickSize": 4, "offset": -4, "labels": false, "title": null}},
         "x2": {"field": "e1"},
         "y": {"field": "rml", "type": "quantitative", "axis": {"orient": "right", "values": [0.2,0.4,0.6,0.8,1.2,1.4,1.6,1.8], "tickSize": 6, "offset": -6, "labels": false, "title": null}},
         "y2": {"field": "rmh"}
       }},
      {"data": {"name": "Rrat"},
       "transform": [{"fold": ["p", "pm", "p15", "p30", "mbr", "hw"], "as": ["series", "v"]}],
       "mark": {"type": "line", "interpolate": "step-after", "strokeWidth": 2, "clip": true},
       "encoding": {
         "x": {"field": "e", "type": "quantitative", "axis": {"orient": "bottom", "values": [0,500,1000,1500,2000], "format": "d", "tickSize": 8, "offset": -8, "labelPadding": 3, "labelOverlap": false, "title": "Electromagnetic Energy [GeV]", "titleAnchor": "end", "titlePadding": 2}},
         "y": {"field": "v", "type": "quantitative", "axis": {"orient": "left", "values": [0,1,2], "labelExpr": "datum.value === 0 ? '0' : (datum.value === 1 ? '1' : '2')", "labelOverlap": false, "tickSize": 12, "offset": -12, "labelPadding": 3, "title": "Ratio MC/Data", "titlePadding": 25}},
         "color": {"field": "series", "type": "nominal", "legend": null,
           "scale": {"domain": ["data","tot","mod","p","pm","p15","p30","mbr","hw"], "range": ["#000000","#ffff00","#ff9933","#ff0000","#ff0000","#0000ff","#0000ff","#00cc00","#9933cc"]}},
         "strokeDash": {"field": "series", "type": "nominal", "legend": null,
           "scale": {"domain": ["data","tot","mod","p","pm","p15","p30","mbr","hw"], "range": [[1,0],[1,0],[1,0],[1,0],[3,3],[3,3],[1,0],[1,0],[1,0]]}}
       }},
      {"data": {"values": [{}]}, "mark": {"type": "rule", "strokeDash": [7,4], "color": "#333333", "strokeWidth": 1.5},
       "encoding": {
         "x": {"datum": 0, "type": "quantitative", "axis": {"orient": "top", "values": [0,500,1000,1500,2000], "tickSize": 8, "offset": -8, "labels": false, "title": null}},
         "x2": {"datum": 2000},
         "y": {"datum": 1, "type": "quantitative", "axis": {"orient": "right", "values": [0,1,2], "tickSize": 12, "offset": -12, "labels": false, "title": null}}
       }}
    ],
    "resolve": {"axis": {"x": "independent", "y": "independent"}}
  }
]
}
